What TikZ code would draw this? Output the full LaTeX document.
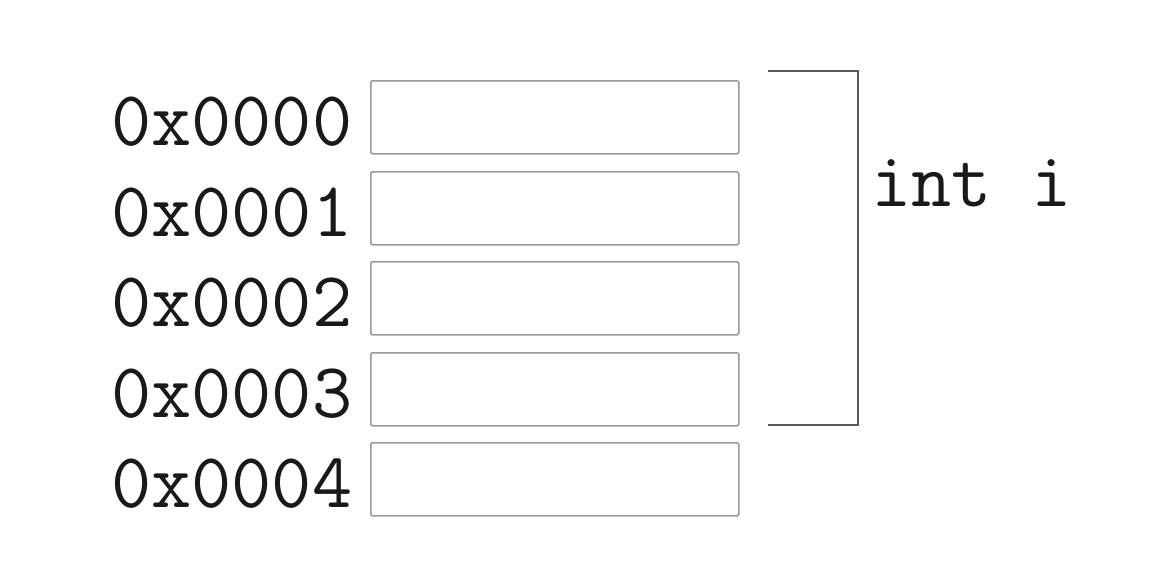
\documentclass[tikz,border=0pt]{standalone}
\begin{document}
\begin{tikzpicture}[x=1pt,y=-1pt,
  cell/.style={draw=black!40, line width=1.6pt, rounded corners=1.5pt, minimum width=368pt, minimum height=73pt, inner sep=0pt, anchor=north west},
  addr/.style={font=\ttfamily\fontsize{78}{78}\selectfont, anchor=base west, inner sep=0pt, text=black!90},
  brace/.style={draw=black!65, line width=1.8pt}]
\useasboundingbox (0,0) rectangle (1160,562);
\node[cell] (c0) at (370,80) {};
\node[cell] (c1) at (370,171) {};
\node[cell] (c2) at (370,261) {};
\node[cell] (c3) at (370,352) {};
\node[cell] (c4) at (370,442) {};
\node[addr] (a0) at (111,145) {0x0000};
\node[addr] (a1) at (111,236) {0x0001};
\node[addr] (a2) at (111,326) {0x0002};
\node[addr] (a3) at (111,417) {0x0003};
\node[addr] (a4) at (111,507) {0x0004};
\coordinate (b0) at (768,71);
\coordinate (b1) at (858,71);
\coordinate (b2) at (858,425);
\coordinate (b3) at (768,425);
\draw[brace] (b0) -- (b1) -- (b2) -- (b3);
\node[addr] (lbl) at (871,206) {int i};
\end{tikzpicture}
\end{document}
